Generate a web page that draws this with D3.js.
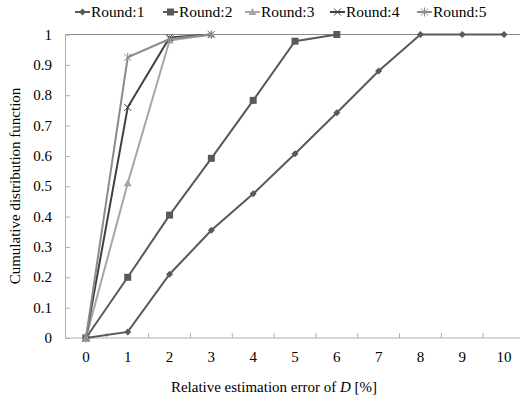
<!DOCTYPE html>
<html>
<head>
<meta charset="utf-8">
<script src="https://cdn.jsdelivr.net/npm/d3@7/dist/d3.min.js"></script>
</head>
<body style="margin:0">
<script>
// data
var errors = [0, 1, 2, 3, 4, 5, 6, 7, 8, 9, 10];
var yTicks = [0, 0.1, 0.2, 0.3, 0.4, 0.5, 0.6, 0.7, 0.8, 0.9, 1];
var round1 = [0, 0.02, 0.21, 0.355, 0.475, 0.607, 0.742, 0.88, 1, 1, 1];
var round2 = [0, 0.2, 0.405, 0.592, 0.783, 0.978, 1];
var round3 = [0, 0.51, 0.98, 1];
var round4 = [0, 0.76, 0.99, 1];
var round5 = [0, 0.925, 0.985, 1];
var names = ["Round:1", "Round:2", "Round:3", "Round:4", "Round:5"];

var series = [
  { name: names[0], values: round1, color: "#595959", marker: "diamond" },
  { name: names[1], values: round2, color: "#595959", marker: "square" },
  { name: names[2], values: round3, color: "#a6a6a6", marker: "triangle" },
  { name: names[3], values: round4, color: "#404040", marker: "cross" },
  { name: names[4], values: round5, color: "#8c8c8c", marker: "star" }
];

var width = 520, height = 399;
var svg = d3.select("body").append("svg")
  .attr("width", width)
  .attr("height", height);

// every label goes through this so the serif face is set on the element itself
function label(parent, x, y, size, str) {
  return parent.append("text")
    .attr("x", x).attr("y", y)
    .attr("font-size", size)
    .style("font-family", "Liberation Serif")
    .attr("fill", "#000")
    .text(str);
}

// categories sit between tick marks, like an Excel line chart
var x = d3.scaleLinear().domain([-0.5, 10.5]).range([65, 525]);
var y = d3.scaleLinear().domain([0, 1]).range([338, 34.5]);
var axisColor = "#b0b0b0";

// top line at 1
svg.append("line")
  .attr("x1", x(-0.5)).attr("x2", width)
  .attr("y1", y(1)).attr("y2", y(1))
  .attr("stroke", "#8c8c8c").attr("stroke-width", 1);

// y axis line and inner ticks from the axis generator, labels drawn by hand
var yAxis = d3.axisLeft(y).tickValues(yTicks).tickSize(-5).tickFormat("");
var gy = svg.append("g").attr("transform", "translate(" + x(-0.5) + ",0)").call(yAxis);
gy.select(".domain").attr("stroke", axisColor);
gy.selectAll(".tick line").attr("stroke", axisColor);
yTicks.forEach(function(d) {
  var s = d === 0 || d === 1 ? String(d) : d3.format(".1f")(d);
  label(svg, x(-0.5) - 13, y(d) + 5, 15, s).attr("text-anchor", "end");
});

// x axis: tick marks at category boundaries pointing up, labels at centres
svg.append("line")
  .attr("x1", x(-0.5)).attr("x2", width)
  .attr("y1", y(0)).attr("y2", y(0))
  .attr("stroke", axisColor);
d3.range(0.5, 10, 1).forEach(function(d) {
  svg.append("line")
    .attr("x1", x(d)).attr("x2", x(d))
    .attr("y1", y(0)).attr("y2", y(0) - 5)
    .attr("stroke", axisColor);
});
errors.forEach(function(d) {
  label(svg, x(d), y(0) + 24, 15, String(d)).attr("text-anchor", "middle");
});

// axis titles
var xt = label(svg, 274, 392, 15, "Relative estimation error of ").attr("text-anchor", "middle");
xt.append("tspan").attr("font-style", "italic").text("D");
xt.append("tspan").text(" [%]");

label(svg, 0, 0, 15, "Cumulative distribution function")
  .attr("transform", "translate(20,186) rotate(-90)")
  .attr("text-anchor", "middle");

// markers
function drawMarker(g, type, color) {
  if (type === "diamond") {
    g.append("path").attr("d", "M0,-3.5L3.5,0L0,3.5L-3.5,0Z").attr("fill", color);
  } else if (type === "square") {
    g.append("rect").attr("x", -3.5).attr("y", -3.5).attr("width", 7).attr("height", 7).attr("fill", color);
  } else if (type === "triangle") {
    g.append("path").attr("d", "M0,-4L4,3L-4,3Z").attr("fill", color);
  } else if (type === "cross") {
    g.append("path").attr("d", "M-3.5,-3.5L3.5,3.5M-3.5,3.5L3.5,-3.5")
      .attr("stroke", color).attr("stroke-width", 1).attr("fill", "none");
  } else {
    g.append("path").attr("d", "M-3.5,-3.5L3.5,3.5M-3.5,3.5L3.5,-3.5M0,-4.5L0,4.5")
      .attr("stroke", color).attr("stroke-width", 1).attr("fill", "none");
  }
}

var line = d3.line()
  .x(function(d, i) { return x(errors[i]); })
  .y(function(d) { return y(d); });

series.forEach(function(s) {
  svg.append("path")
    .datum(s.values)
    .attr("d", line)
    .attr("fill", "none")
    .attr("stroke", s.color)
    .attr("stroke-width", 2);
  s.values.forEach(function(v, i) {
    var g = svg.append("g").attr("transform", "translate(" + x(errors[i]) + "," + y(v) + ")");
    drawMarker(g, s.marker, s.color);
  });
});

// legend
var legendX = [75, 163, 245, 330, 417];
series.forEach(function(s, i) {
  var lg = svg.append("g").attr("transform", "translate(" + legendX[i] + ",12)");
  lg.append("line").attr("x1", 0).attr("x2", 15).attr("stroke", s.color).attr("stroke-width", 2);
  var m = lg.append("g").attr("transform", "translate(7.5,0)");
  drawMarker(m, s.marker, s.color);
  label(lg, 16, 5, 15.5, s.name);
});
</script>
</body>
</html>
